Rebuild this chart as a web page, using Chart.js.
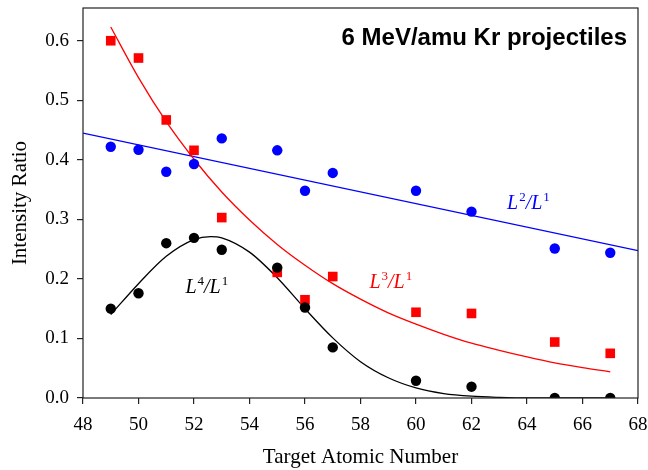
<!DOCTYPE html>
<html>
<head>
<meta charset="utf-8">
<script src="https://cdn.jsdelivr.net/npm/chart.js@4/dist/chart.umd.min.js"></script>
<style>
  body { margin: 0; background: #fff; }
  #wrap { width: 648px; height: 470px; }
</style>
</head>
<body>
<div id="wrap"><canvas id="ratioChart" width="648" height="470"></canvas></div>
<script>
// measured intensity ratios vs target atomic number
const atomicNumbers = [49, 50, 51, 52, 53, 55, 56, 57, 60, 62, 65, 67];
const ratioL2 = [0.422, 0.417, 0.380, 0.393, 0.436, 0.416, 0.348, 0.378, 0.348, 0.313, 0.251, 0.244];
const ratioL3 = [0.600, 0.571, 0.467, 0.416, 0.303, 0.211, 0.165, 0.204, 0.144, 0.142, 0.094, 0.075];
const ratioL4 = [0.150, 0.176, 0.260, 0.269, 0.249, 0.219, 0.152, 0.085, 0.029, 0.019, 0.000, 0.000];

// fitted curves
const fitL2X = [48, 68];
const fitL2 = [0.445, 0.2475];
const fitL3X = [49, 50, 51, 52, 53, 54, 55, 56, 57, 58, 59, 60, 61, 62, 63, 64, 65, 66, 67];
const fitL3 = [0.623, 0.538, 0.464, 0.401, 0.346, 0.299, 0.258, 0.223, 0.192, 0.166, 0.143, 0.124, 0.107, 0.092, 0.080, 0.069, 0.059, 0.051, 0.044];
const fitL4X = [49, 50, 51, 52, 52.6, 53, 54, 55, 56, 57, 58, 59, 60, 61, 62, 63, 64, 65, 66, 67];
const fitL4 = [0.140, 0.192, 0.238, 0.266, 0.271, 0.269, 0.245, 0.202, 0.150, 0.101, 0.061, 0.034, 0.017, 0.0075, 0.003, 0.001, 0, 0, 0, 0];

const chartTitle = '6 MeV/amu Kr projectiles';
const xTitle = 'Target Atomic Number';
const yTitle = 'Intensity Ratio';

function pairs(xs, ys) {
    return xs.map((x, i) => ({ x: x, y: ys[i] }));
}

const serif = "'Liberation Serif', 'Times New Roman', serif";

// curve labels like L4/L1 with superscripts
function drawRatio(ctx, x, y, num, den, color) {
    ctx.fillStyle = color;
    ctx.textBaseline = 'alphabetic';
    ctx.textAlign = 'left';
    const big = 'italic 20px ' + serif;
    const small = '13px ' + serif;
    ctx.font = big;
    ctx.fillText('L', x, y);
    x += ctx.measureText('L').width + 1;
    ctx.font = small;
    ctx.fillText(num, x, y - 8);
    x += ctx.measureText(num).width;
    ctx.font = big;
    ctx.fillText('/L', x, y);
    x += ctx.measureText('/L').width + 1;
    ctx.font = small;
    ctx.fillText(den, x, y - 8);
}

const annotations = {
    id: 'annotations',
    afterDraw(chart) {
        const ctx = chart.ctx;
        const xs = chart.scales.x, ys = chart.scales.y;
        const area = chart.chartArea;
        ctx.save();
        // frame
        ctx.strokeStyle = '#222';
        ctx.lineWidth = 1.2;
        ctx.strokeRect(area.left, area.top, area.right - area.left, area.bottom - area.top);
        // title
        ctx.fillStyle = '#000';
        ctx.font = "bold 24px 'Liberation Sans', Arial, sans-serif";
        ctx.textAlign = 'right';
        ctx.textBaseline = 'alphabetic';
        ctx.fillText(chartTitle, 627, 45);
        drawRatio(ctx, xs.getPixelForValue(63.28), ys.getPixelForValue(0.317), '2', '1', '#0000ff');
        drawRatio(ctx, xs.getPixelForValue(58.32), ys.getPixelForValue(0.184), '3', '1', '#ff0000');
        drawRatio(ctx, xs.getPixelForValue(51.69), ys.getPixelForValue(0.176), '4', '1', '#000000');
        ctx.restore();
    }
};

const ctx = document.getElementById('ratioChart');

new Chart(ctx, {
    type: 'scatter',
    plugins: [annotations],
    data: {
        datasets: [
            {
                label: 'L4/L1',
                data: pairs(atomicNumbers, ratioL4),
                backgroundColor: '#000000',
                borderColor: '#000000',
                pointStyle: 'circle',
                pointRadius: 5.2,
                pointBorderWidth: 0,
                order: 0
            },
            {
                label: 'L3/L1',
                data: pairs(atomicNumbers, ratioL3),
                backgroundColor: '#ff0000',
                borderColor: '#ff0000',
                pointStyle: 'rect',
                pointRadius: 6.8,
                pointBorderWidth: 0,
                order: 1
            },
            {
                label: 'L2/L1',
                data: pairs(atomicNumbers, ratioL2),
                backgroundColor: '#0000ff',
                borderColor: '#0000ff',
                pointStyle: 'circle',
                pointRadius: 5.2,
                pointBorderWidth: 0,
                order: 2
            },
            {
                label: 'fit L4',
                data: pairs(fitL4X, fitL4),
                showLine: true,
                borderColor: '#000000',
                borderWidth: 1.3,
                pointRadius: 0,
                cubicInterpolationMode: 'monotone',
                order: 3
            },
            {
                label: 'fit L3',
                data: pairs(fitL3X, fitL3),
                showLine: true,
                borderColor: '#ff0000',
                borderWidth: 1.3,
                pointRadius: 0,
                cubicInterpolationMode: 'monotone',
                order: 4
            },
            {
                label: 'fit L2',
                data: pairs(fitL2X, fitL2),
                showLine: true,
                borderColor: '#0000ff',
                borderWidth: 1.3,
                pointRadius: 0,
                order: 5
            }
        ]
    },
    options: {
        responsive: false,
        animation: false,
        layout: { padding: { left: 0, right: 10, top: 8, bottom: 0 } },
        plugins: {
            legend: { display: false },
            tooltip: { enabled: false }
        },
        scales: {
            x: {
                type: 'linear',
                min: 48,
                max: 68,
                afterFit: (scale) => {
                    scale.height = 72;
                    scale.paddingLeft = 0;
                    scale.paddingRight = 0;
                },
                border: { display: false },
                grid: { drawOnChartArea: false, drawTicks: true, tickLength: 6, color: '#222', lineWidth: 1.2 },
                ticks: {
                    stepSize: 2,
                    color: '#000',
                    padding: 10,
                    maxRotation: 0,
                    font: { family: serif, size: 19 }
                },
                title: {
                    display: true,
                    text: xTitle,
                    color: '#000',
                    font: { family: serif, size: 21, lineHeight: 1.2 },
                    padding: { top: 0, bottom: 0 }
                }
            },
            y: {
                min: 0,
                max: 0.655,
                afterFit: (scale) => {
                    scale.width = 83;
                    scale.paddingTop = 0;
                    scale.paddingBottom = 0;
                },
                afterBuildTicks: (scale) => {
                    scale.ticks = scale.ticks.filter(t => t.value <= 0.6001 &&
                        Math.abs(t.value * 10 - Math.round(t.value * 10)) < 1e-6);
                },
                border: { display: false },
                grid: { drawOnChartArea: false, drawTicks: true, tickLength: 6, color: '#222', lineWidth: 1.2 },
                ticks: {
                    stepSize: 0.1,
                    color: '#000',
                    padding: 8,
                    font: { family: serif, size: 19 },
                    callback: (v) => v.toFixed(1)
                },
                title: {
                    display: true,
                    text: yTitle,
                    color: '#000',
                    font: { family: serif, size: 21, lineHeight: 1.2 },
                    padding: { top: 8, bottom: 0 }
                }
            }
        }
    }
});
</script>
</body>
</html>
